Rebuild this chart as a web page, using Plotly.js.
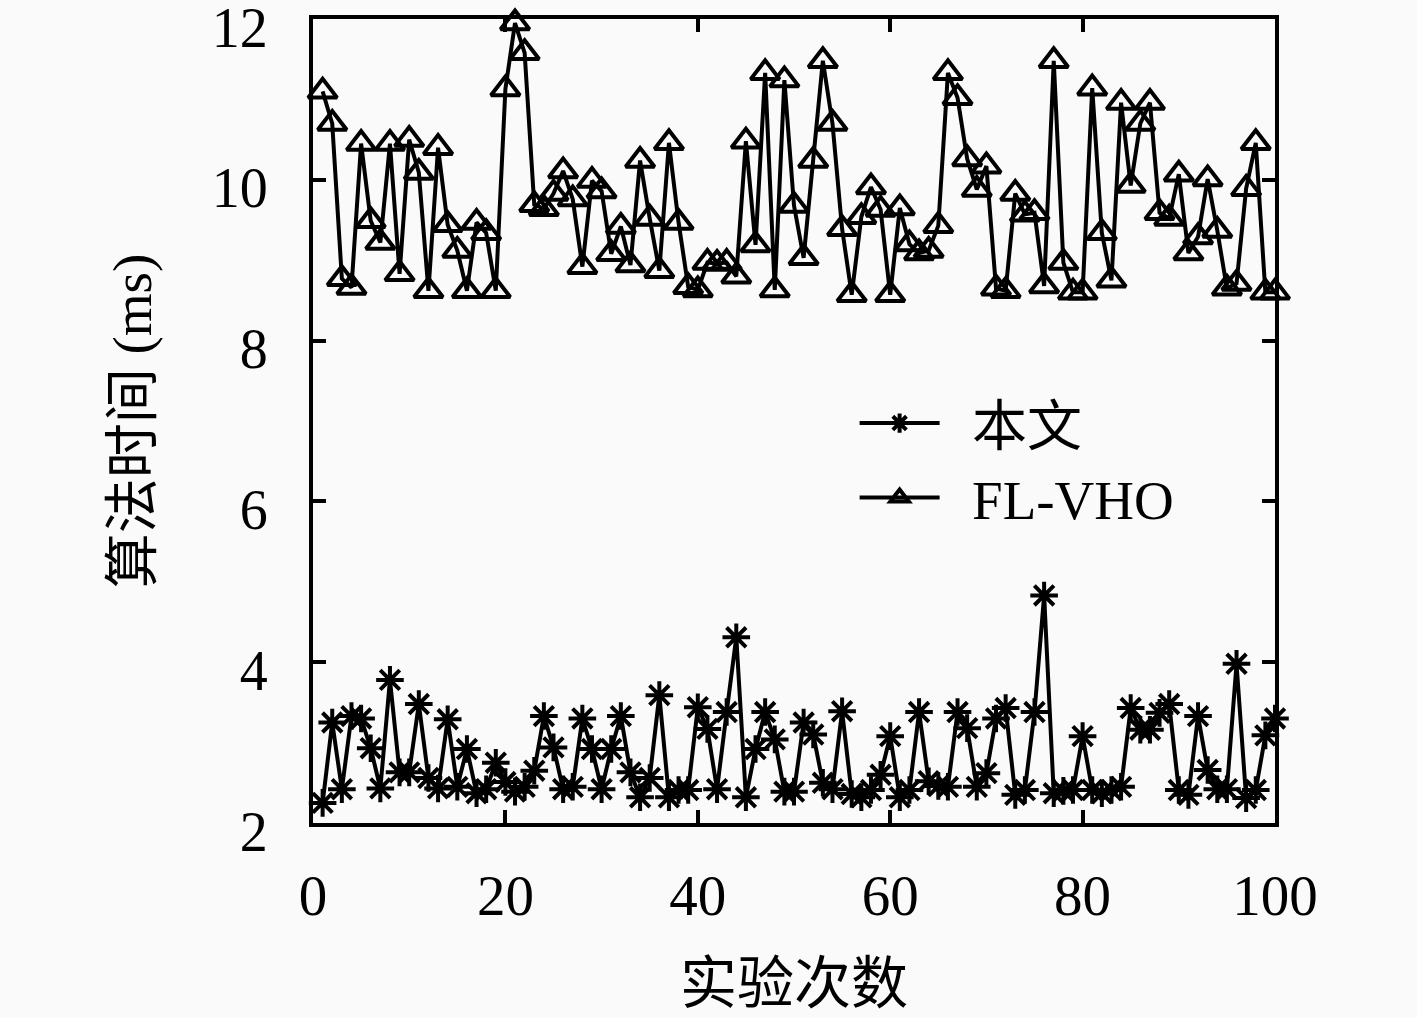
<!DOCTYPE html>
<html>
<head>
<meta charset="utf-8">
<script src="https://cdn.plot.ly/plotly-3.0.1.min.js"></script>
<style>html,body{margin:0;padding:0;background:#fafafa;}#chart{width:1417px;height:1018px;}</style>
</head>
<body>
<div id="chart"></div>
<script>
const runs = Array.from({length: 100}, (_, i) => i + 1);

const oursTime = [
  2.25, 3.25, 2.42, 3.33, 3.30, 2.93, 2.43, 3.78, 2.63, 2.63,
  3.48, 2.56, 2.43, 3.29, 2.45, 2.92, 2.37, 2.42, 2.75, 2.51,
  2.39, 2.45, 2.65, 3.33, 2.94, 2.42, 2.45, 3.30, 2.92, 2.42,
  2.92, 3.33, 2.63, 2.32, 2.56, 3.59, 2.32, 2.41, 2.41, 3.44,
  3.17, 2.42, 3.38, 4.31, 2.32, 2.92, 3.38, 3.04, 2.39, 2.39,
  3.25, 3.10, 2.50, 2.42, 3.39, 2.36, 2.32, 2.41, 2.60, 3.08,
  2.32, 2.41, 3.38, 2.52, 2.46, 2.45, 3.38, 3.18, 2.45, 2.62,
  3.30, 3.43, 2.35, 2.41, 3.38, 4.83, 2.37, 2.40, 2.41, 3.08,
  2.41, 2.37, 2.41, 2.45, 3.43, 3.16, 3.16, 3.37, 3.48, 2.41,
  2.35, 3.33, 2.66, 2.42, 2.42, 3.98, 2.31, 2.41, 3.09, 3.30
];

const flvhoTime = [
  11.10, 10.70, 8.77, 8.66, 10.45, 9.49, 9.22, 10.45, 8.83, 10.50,
  10.09, 8.62, 10.40, 9.44, 9.12, 8.62, 9.47, 9.34, 8.62, 11.13,
  11.95, 11.58, 9.69, 9.64, 9.83, 10.11, 9.76, 8.92, 9.99, 9.86,
  9.08, 9.42, 8.94, 10.24, 9.52, 8.87, 10.46, 9.47, 8.67, 8.63,
  8.97, 8.96, 8.97, 8.80, 10.48, 9.19, 11.33, 8.63, 11.24, 9.68,
  9.03, 10.24, 11.48, 10.70, 9.39, 8.57, 9.54, 9.91, 9.63, 8.57,
  9.65, 9.20, 9.09, 9.12, 9.43, 11.33, 11.02, 10.26, 9.88, 10.17,
  8.65, 8.62, 9.83, 9.57, 9.59, 8.68, 11.48, 8.97, 8.60, 8.60,
  11.14, 9.34, 8.75, 10.96, 9.93, 10.70, 10.96, 9.59, 9.52, 10.07,
  9.09, 9.29, 10.01, 9.37, 8.65, 8.71, 9.89, 10.46, 8.60, 8.60
];

const seriesNames = ['本文', 'FL-VHO'];
const xTicks = [0, 20, 40, 60, 80, 100];
const yTicks = [2, 4, 6, 8, 10, 12];
const xTitle = '实验次数';
const yTitle = '算法时间 (ms)';

const fontFam = '"Liberation Serif", "DejaVu Serif", "Noto Sans CJK SC", serif';

const traces = [
  {
    x: runs, y: oursTime, name: '\u2002' + seriesNames[0], type: 'scatter', mode: 'lines+markers',
    line: {color: '#000', width: 4},
    marker: {symbol: 'asterisk-open', size: 23, color: '#000', line: {color: '#000', width: 4}},
    cliponaxis: false
  },
  {
    x: runs, y: flvhoTime, name: '\u2002' + seriesNames[1], type: 'scatter', mode: 'lines+markers',
    line: {color: '#000', width: 4},
    marker: {symbol: 'triangle-up-open', size: 25, color: '#000', line: {color: '#000', width: 4}},
    cliponaxis: false
  }
];

const layout = {
  width: 1417, height: 1018,
  paper_bgcolor: '#fafafa', plot_bgcolor: '#fafafa',
  margin: {l: 313, r: 142, t: 19, b: 195},
  font: {family: fontFam, color: '#000', size: 50},
  showlegend: true,
  legend: {
    x: 0.563, y: 0.55, xanchor: 'left', yanchor: 'top',
    bgcolor: 'rgba(0,0,0,0)', borderwidth: 0,
    font: {family: fontFam, size: 55, color: '#000'},
    itemwidth: 80, tracegroupgap: 10
  },
  xaxis: {
    range: [0, 100], tickvals: xTicks, ticktext: xTicks.map(String),
    ticks: 'inside', ticklen: 13, tickwidth: 4, tickcolor: '#000',
    showline: true, linewidth: 4, linecolor: '#000', mirror: 'ticks',
    showgrid: false, zeroline: false,
    tickfont: {family: fontFam, size: 57, color: '#000'},
    ticklabelstandoff: 20, ticklabeloverflow: 'allow',
    title: {text: xTitle, font: {family: fontFam, size: 57, color: '#000'}, standoff: 38}
  },
  yaxis: {
    range: [2, 12], tickvals: yTicks, ticktext: yTicks.map(String),
    ticks: 'inside', ticklen: 13, tickwidth: 4, tickcolor: '#000',
    showline: true, linewidth: 4, linecolor: '#000', mirror: 'ticks',
    showgrid: false, zeroline: false,
    tickfont: {family: fontFam, size: 56, color: '#000'},
    ticklabelstandoff: 30, ticklabeloverflow: 'allow', ticklabelshift: 8,
    title: {text: yTitle, font: {family: fontFam, size: 55, color: '#000'}, standoff: 44}
  }
};

Plotly.newPlot('chart', traces, layout, {displayModeBar: false, staticPlot: true});
</script>
</body>
</html>
